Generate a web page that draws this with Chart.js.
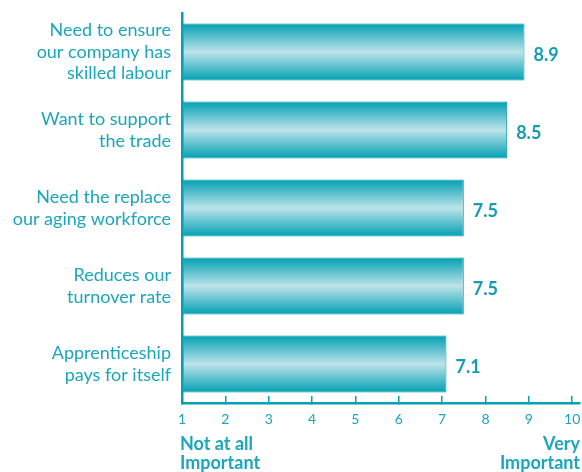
<!DOCTYPE html>
<html>
<head>
<meta charset="utf-8">
<title>Reasons for hiring apprentices</title>
<script src="https://cdn.jsdelivr.net/npm/chart.js@4/dist/chart.umd.min.js"></script>
<style>
  html, body { margin: 0; padding: 0; background: #fff; }
  #wrap { width: 582px; height: 472px; }
</style>
</head>
<body>
<div id="wrap"><canvas id="chart" width="582" height="472"></canvas></div>
<script>
const categories = [
  ["Need to ensure", "our company has", "skilled labour"],
  ["Want to support", "the trade"],
  ["Need the replace", "our aging workforce"],
  ["Reduces our", "turnover rate"],
  ["Apprenticeship", "pays for itself"]
];
const scores = [8.9, 8.5, 7.5, 7.5, 7.1];
const lowEndLabel = ["Not at all", "Important"];
const highEndLabel = ["Very", "Important"];

const TEAL = "#1ba6bb";
const AXIS = "#04a0b3";
const FONT = "Lato, 'Open Sans', sans-serif";
const BAR_PCT = 0.73;

// cylinder-like shading across each bar
function barFill(ctx){
  const chart = ctx.chart;
  const area = chart.chartArea;
  if(!area) return AXIS;
  const y = chart.scales.y.getPixelForValue(ctx.dataIndex);
  const h = (area.bottom - area.top) / categories.length * BAR_PCT;
  const g = chart.ctx.createLinearGradient(0, y - h / 2, 0, y + h / 2);
  g.addColorStop(0, "#00a1b2");
  g.addColorStop(0.12, "#2eb0c0");
  g.addColorStop(0.5, "#bde3ea");
  g.addColorStop(0.88, "#2eb0c0");
  g.addColorStop(1, "#00a1b2");
  return g;
}

const valueLabels = {
  id: "valueLabels",
  afterDatasetsDraw(chart){
    const c = chart.ctx;
    const meta = chart.getDatasetMeta(0);
    c.save();
    c.font = "bold 18px " + FONT;
    c.fillStyle = "#129db2";
    c.textAlign = "left";
    c.textBaseline = "middle";
    meta.data.forEach((bar, i) => {
      c.fillText(scores[i].toFixed(1), bar.x + 9, bar.y + 3);
    });
    c.restore();
  }
};

const endLabels = {
  id: "endLabels",
  afterDraw(chart){
    const c = chart.ctx;
    const area = chart.chartArea;
    c.save();
    c.font = "bold 18px " + FONT;
    c.fillStyle = TEAL;
    c.textBaseline = "alphabetic";
    c.textAlign = "left";
    lowEndLabel.forEach((t, i) => c.fillText(t, area.left - 2, 450 + i * 19));
    c.textAlign = "right";
    highEndLabel.forEach((t, i) => c.fillText(t, area.right, 450 + i * 19));
    c.restore();
  }
};

// keep the plot box fixed regardless of label overhang
function noOverhang(s){
  s.paddingTop = 0;
  s.paddingBottom = 0;
  s.paddingLeft = 0;
  s.paddingRight = 0;
}

new Chart(document.getElementById("chart"), {
  type: "bar",
  data: {
    labels: categories,
    datasets: [{
      data: scores,
      base: 1,
      backgroundColor: barFill,
      borderColor: "#0a9cad",
      borderWidth: 1,
      borderSkipped: false,
      categoryPercentage: 1,
      barPercentage: BAR_PCT
    }]
  },
  options: {
    indexAxis: "y",
    responsive: false,
    animation: false,
    layout: { autoPadding: false, padding: { top: 13, right: 2, left: 0, bottom: 0 } },
    plugins: {
      legend: { display: false },
      tooltip: { enabled: false }
    },
    scales: {
      x: {
        min: 1,
        max: 10.18,
        afterBuildTicks: (s) => { s.ticks = s.ticks.filter(t => Number.isInteger(t.value)); },
        afterFit: (s) => { s.height = 69; noOverhang(s); },
        ticks: {
          stepSize: 1,
          includeBounds: false,
          color: TEAL,
          padding: 15,
          font: { family: FONT, size: 14 }
        },
        grid: {
          drawOnChartArea: false,
          drawTicks: true,
          tickLength: -7,
          color: AXIS,
          lineWidth: 1.5
        },
        border: { display: true, color: AXIS, width: 2.5 }
      },
      y: {
        afterFit: (s) => { s.width = 182; noOverhang(s); },
        ticks: {
          color: TEAL,
          padding: 11,
          font: { family: FONT, size: 18, lineHeight: 1.2 }
        },
        grid: { display: false, drawTicks: false },
        border: { display: true, color: AXIS, width: 2.5 }
      }
    }
  },
  plugins: [valueLabels, endLabels]
});
</script>
</body>
</html>
